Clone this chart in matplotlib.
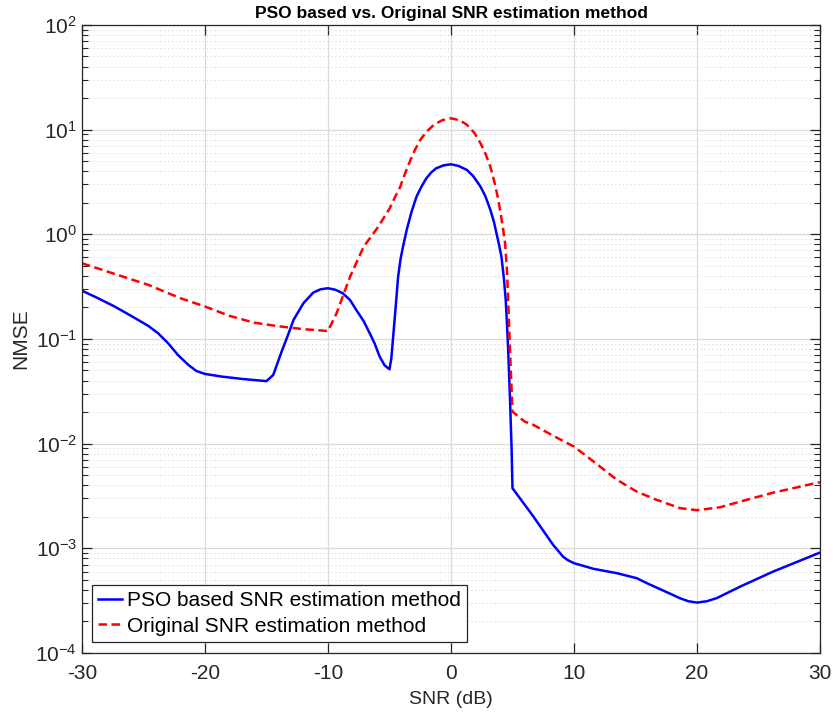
import matplotlib
matplotlib.use("Agg")
import matplotlib.pyplot as plt
from matplotlib.ticker import LogLocator, FixedLocator, NullFormatter

plt.rcParams['font.family'] = ['Liberation Sans', 'DejaVu Sans']
plt.rcParams['mathtext.default'] = 'regular'
plt.rcParams['axes.unicode_minus'] = False

# Data
pso_snr = [-30, -28.7, -27.35, -26, -24.6, -23.8, -23.0, -22.2, -21.35, -20.7, -20, -18.65,
           -17, -15, -14.45, -13.77, -13.2, -12.8, -12, -11.2, -10.6, -10, -9.4, -8.8, -8.2,
           -7.7, -7.1, -6.6, -6.2, -5.8, -5.4, -5, -4.85, -4.7, -4.5, -4.3, -4.1, -3.9, -3.6,
           -3.2, -2.8, -2.4, -2, -1.6, -1.2, -0.6, 0, 0.6, 1.3, 1.8, 2.4, 2.8, 3.2, 3.5, 3.7,
           3.9, 4.1, 4.3, 4.45, 4.55, 4.65, 4.8, 4.93, 5.0, 6.7, 8.3, 8.8, 9.1, 9.5, 10, 11.6,
           13.5, 15.1, 16, 17, 18, 18.6, 19.3, 20, 20.8, 21.6, 23.5, 26.2, 30]
pso_nmse = [0.289, 0.245, 0.204, 0.166, 0.133, 0.113, 0.091, 0.0703, 0.0565, 0.0494, 0.0463,
            0.0437, 0.0415, 0.0395, 0.0453, 0.0756, 0.113, 0.152, 0.219, 0.277, 0.298, 0.305,
            0.295, 0.273, 0.235, 0.189, 0.148, 0.113, 0.09, 0.0678, 0.056, 0.0513, 0.065,
            0.105, 0.2, 0.39, 0.58, 0.76, 1.1, 1.65, 2.29, 2.85, 3.43, 3.9, 4.27, 4.55, 4.66,
            4.5, 4.11, 3.6, 2.85, 2.3, 1.71, 1.3, 1.02, 0.8, 0.611, 0.38, 0.236, 0.14, 0.0785,
            0.0261, 0.0087, 0.00375, 0.00201, 0.00108, 0.00092, 0.000834, 0.00077, 0.000721,
            0.000636, 0.000578, 0.000518, 0.00046, 0.000407, 0.00036, 0.000334, 0.000312,
            0.000303, 0.000312, 0.000334, 0.00043, 0.0006, 0.00091]

orig_snr = [-30, -27.35, -24.6, -22, -20, -18, -16, -14, -12, -10, -9.3, -8.2, -7.1, -6, -5,
            -4.6, -4.15, -3.7, -3.3, -2.9, -2.5, -2, -1.4, -0.7, 0, 0.7, 1.3, 1.9, 2.4, 2.8,
            3.2, 3.55, 3.85, 4.15, 4.4, 4.55, 4.65, 4.75, 4.85, 5.0, 6, 6.7, 8.3, 10, 11.6,
            13.5, 15.1, 16.6, 18.6, 20, 21.9, 23.5, 26.2, 30]
orig_nmse = [0.528, 0.418, 0.328, 0.245, 0.204, 0.166, 0.143, 0.132, 0.124, 0.119, 0.176,
             0.394, 0.76, 1.14, 1.75, 2.2, 2.8, 3.9, 5.1, 6.5, 7.95, 9.5, 11.1, 12.3, 12.8,
             12.3, 11.1, 9.3, 7.4, 5.9, 4.42, 3.1, 2.13, 1.3, 0.82, 0.45, 0.236, 0.11, 0.0543,
             0.0202, 0.0162, 0.0151, 0.0119, 0.00936, 0.00673, 0.0045, 0.00348, 0.00294,
             0.00242, 0.00231, 0.00247, 0.00279, 0.0034, 0.00428]

x_ticks = [-30, -20, -10, 0, 10, 20, 30]
title = "PSO based vs. Original SNR estimation method"
labels = ["PSO based SNR estimation method", "Original SNR estimation method"]

dark = (0.15, 0.15, 0.15)

fig = plt.figure(figsize=(8.33, 7.17), dpi=100)
ax = fig.add_axes([0.0984, 0.0893, 0.886, 0.876])

ax.semilogy(pso_snr, pso_nmse, color=(0, 0, 1), lw=1.8, label=labels[0])
ax.semilogy(orig_snr, orig_nmse, color=(1, 0, 0), lw=1.8, ls=(0, (3.4, 1.8)), label=labels[1])

ax.set_xlim(-30, 30)
ax.set_ylim(1e-4, 1e2)
ax.xaxis.set_major_locator(FixedLocator(x_ticks))
ax.yaxis.set_major_locator(LogLocator(base=10, numticks=10))
ax.yaxis.set_minor_locator(LogLocator(base=10, subs=range(2, 10), numticks=20))
ax.yaxis.set_minor_formatter(NullFormatter())

ax.grid(True, which='major', color=(0.86, 0.86, 0.86), lw=0.9, ls='-')
ax.grid(True, which='minor', axis='y', color=(0.82, 0.82, 0.82), lw=0.7, ls=(0, (1, 3)))
ax.set_axisbelow(True)

for s in ax.spines.values():
    s.set_color(dark)
    s.set_linewidth(0.9)
ax.tick_params(which='both', direction='in', top=True, right=True, colors=dark,
               labelcolor=dark, labelsize=15)
ax.tick_params(which='major', length=7, width=0.9)
ax.tick_params(which='minor', length=4, width=0.8)
ax.tick_params(axis='x', pad=8)

ax.set_xlabel("SNR (dB)", fontsize=14, color=dark, labelpad=6)
ax.set_ylabel("NMSE", fontsize=15, color=dark, labelpad=4)
ax.set_title(title, fontsize=12.5, fontweight='bold', pad=5)

leg = ax.legend(loc='lower left', fontsize=15, frameon=True, fancybox=False,
                edgecolor=dark, framealpha=1, borderpad=0.3, borderaxespad=0,
                handlelength=1.15, handletextpad=0.25, labelspacing=0.3,
                bbox_to_anchor=(0.013, 0.0175))
leg.get_frame().set_linewidth(0.9)

fig.savefig("out.png", dpi=100)
